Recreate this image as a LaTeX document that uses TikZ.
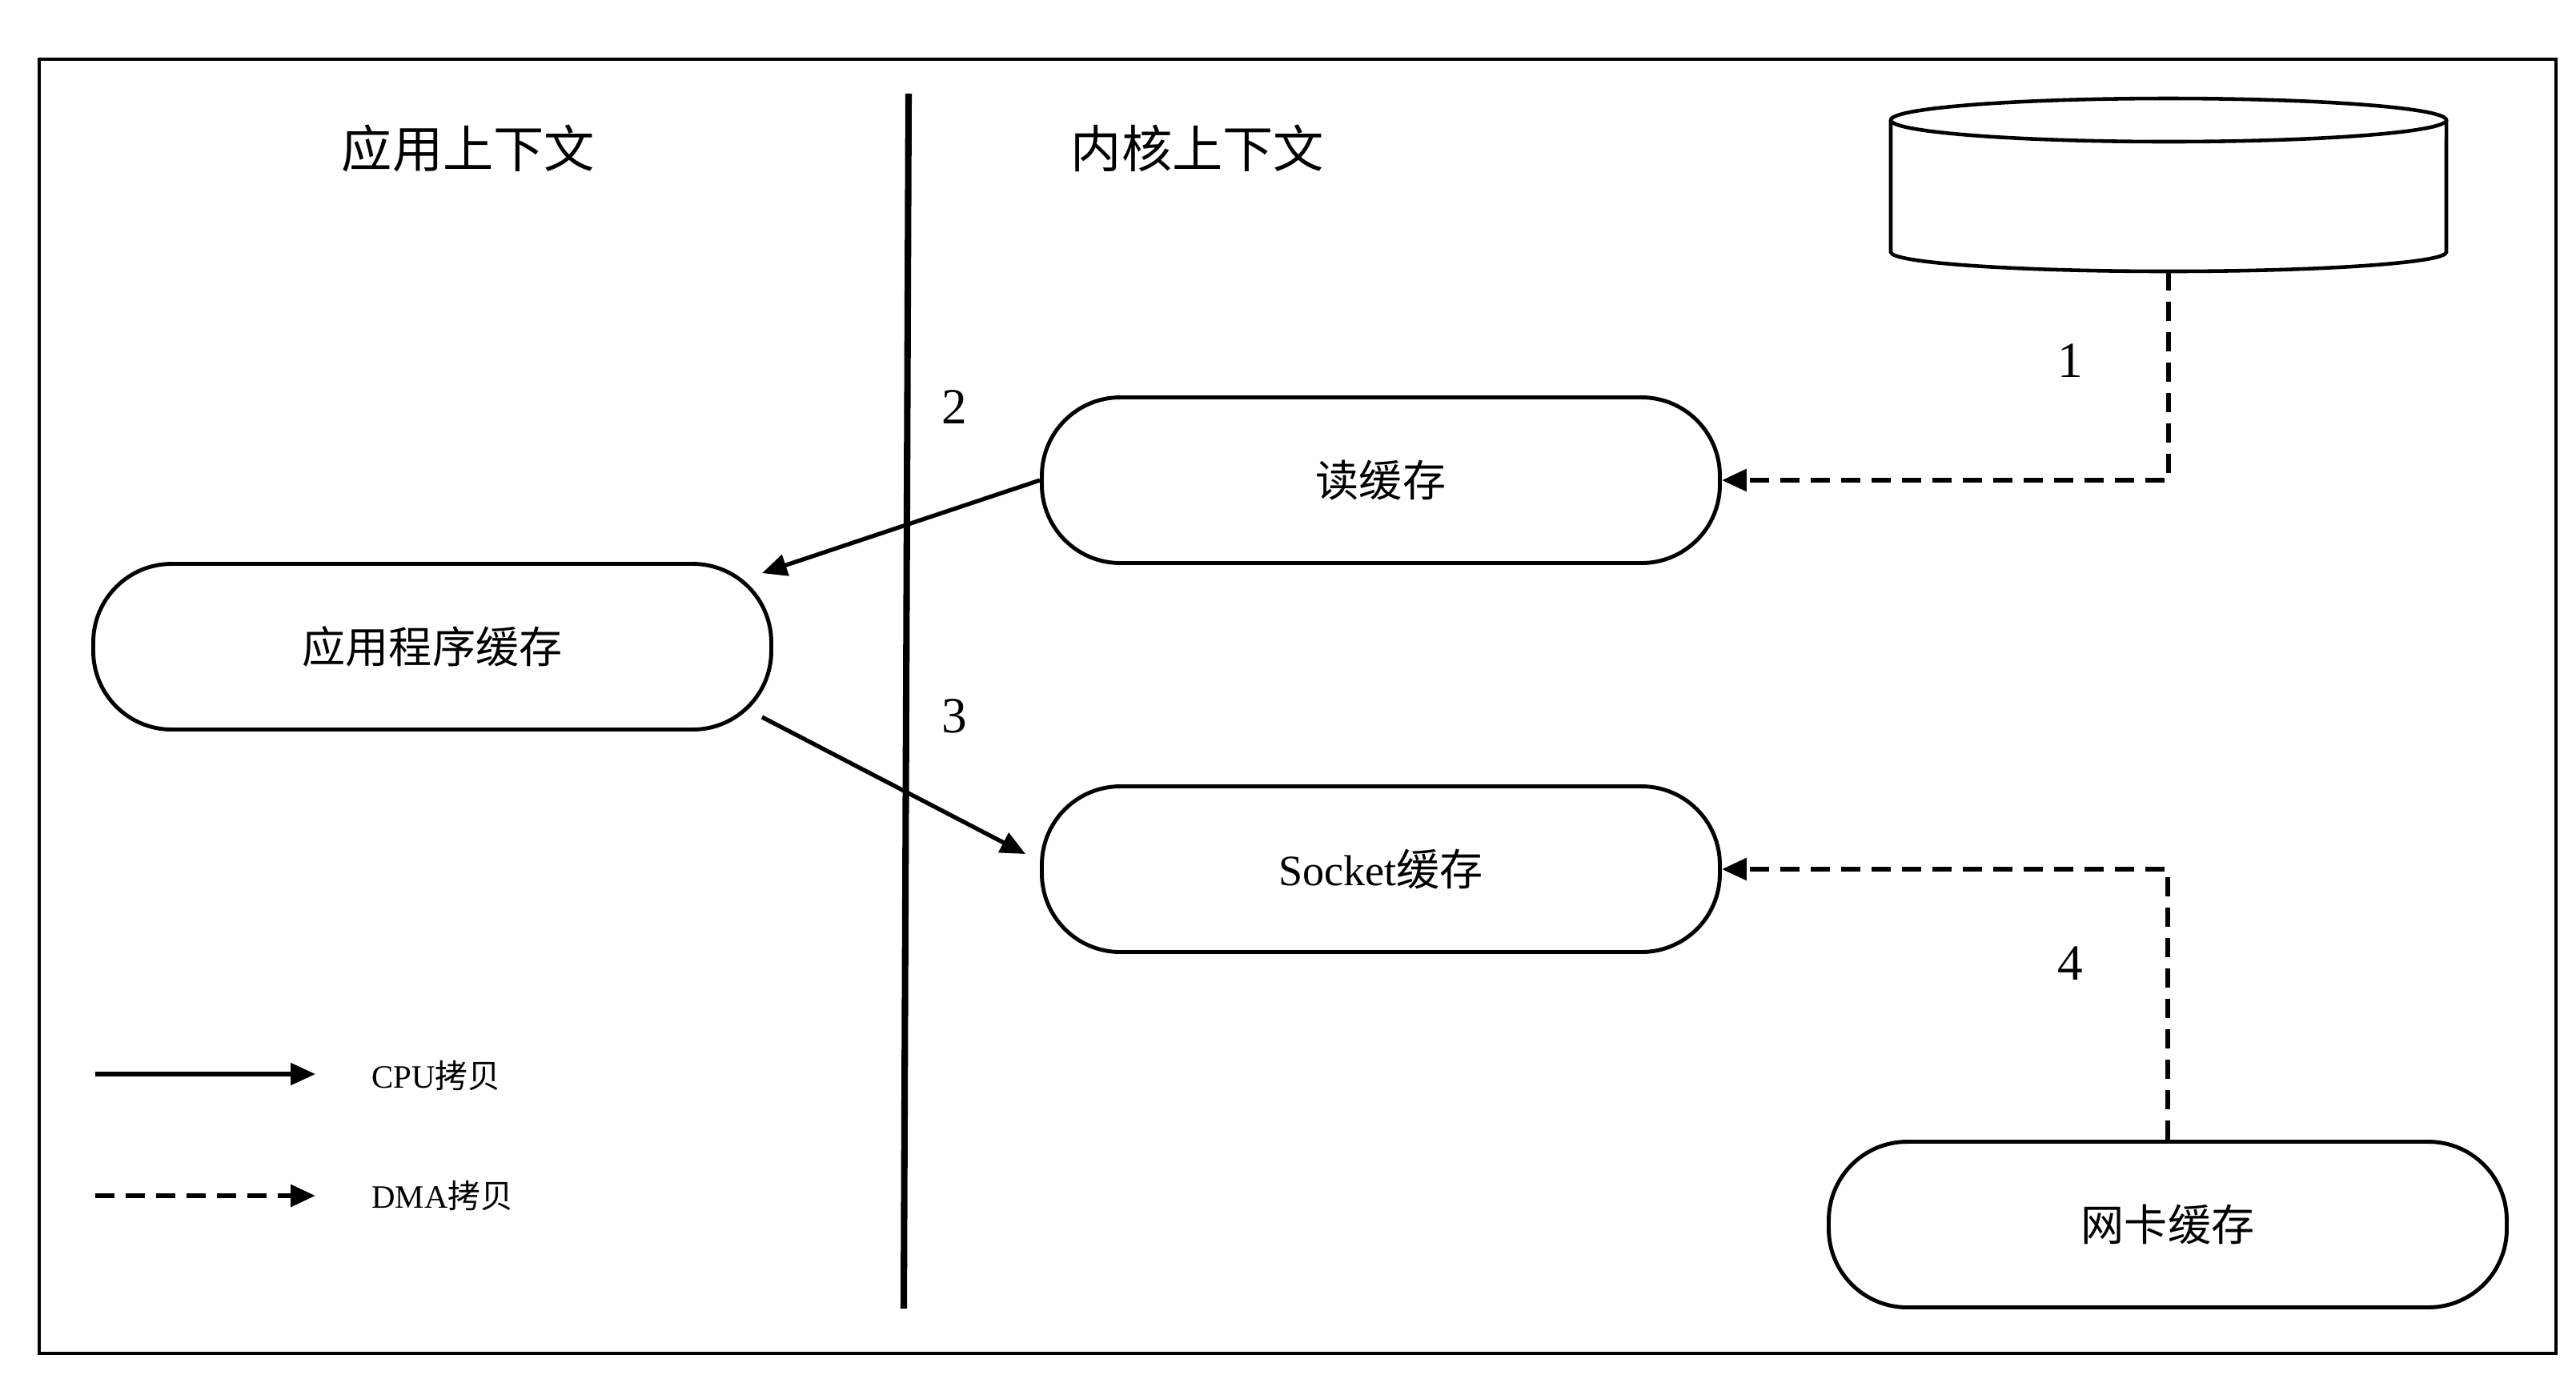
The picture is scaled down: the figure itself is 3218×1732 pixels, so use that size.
\documentclass[tikz,border=0pt]{standalone}
\usepackage{fontspec}
\setmainfont{Liberation Serif}
\newfontfamily\cjk{Noto Sans CJK SC}
\usetikzlibrary{arrows.meta}
\begin{document}
\begin{tikzpicture}[x=0.1mm,y=-0.1mm,
  bufbox/.style={draw, line width=1.4pt, rounded corners=9.8mm, minimum width=84.7mm, minimum height=20.7mm, inner sep=0pt, font=\fontsize{15.4}{18}\selectfont},
  hdr/.style={font=\cjk\fontsize{18}{21}\selectfont},
  num/.style={font=\fontsize{18}{21}\selectfont},
  legtext/.style={anchor=west, font=\fontsize{11.6}{14}\selectfont},
  cpu/.style={line width=1.5pt, -{Triangle[length=3.1mm,width=2.7mm]}},
  dma/.style={line width=1.7pt, dash pattern=on 2.4mm off 1.4mm, -{Triangle[length=3.1mm,width=2.7mm]}}
]
\useasboundingbox (0,0) rectangle (3218,1732);
\fill[white] (0,0) rectangle (3218,1732);
% frame
\draw[line width=1.1pt] (49,74) rectangle (3193,1691);
% divider
\coordinate (divtop) at (1135,117);
\coordinate (divbot) at (1129,1635);
\draw[line width=2.3pt] (divtop) -- (divbot);
% headers
\node[hdr] (hApp) at (585,185) {应用上下文};
\node[hdr] (hKer) at (1496,185) {内核上下文};
% disk (cylinder)
\draw[line width=1.3pt] (2709,150) ellipse [x radius=34.7mm, y radius=2.7mm];
\draw[line width=1.3pt] (2362,150) -- (2362,315)
  arc[start angle=180, end angle=360, x radius=34.7mm, y radius=2.4mm] -- (3056,150);
\coordinate (disk) at (2709,339);
% buffers
\node[bufbox] (read) at (1725,600) {\cjk 读缓存};
\node[bufbox] (app) at (540,808) {\cjk 应用程序缓存};
\node[bufbox] (sock) at (1725,1086) {Socket{\cjk 缓存}};
\node[bufbox] (nic) at (2708,1530) {\cjk 网卡缓存};
% connectors
\draw[dma] (disk) |- (read.east);
\draw[cpu] (read.west) -- ([shift={(-14,14)}]app.north east);
\draw[cpu] ([shift={(-14,-18)}]app.south east) -- ([shift={(-18,-19)}]sock.west);
\draw[dma] (nic.north) |- (sock.east);
% step numbers
\node[num] (n1) at (2586,451) {1};
\node[num] (n2) at (1192,509) {2};
\node[num] (n3) at (1192,895) {3};
\node[num] (n4) at (2586,1204) {4};
% legend
\coordinate (l1a) at (119,1342);
\coordinate (l1b) at (394,1342);
\coordinate (l2a) at (119,1494);
\coordinate (l2b) at (394,1494);
\draw[cpu] (l1a) -- (l1b);
\draw[dma] (l2a) -- (l2b);
\node[legtext] (lcpu) at (452,1344) {CPU{\cjk 拷贝}};
\node[legtext] (ldma) at (452,1494) {DMA{\cjk 拷贝}};
\end{tikzpicture}
\end{document}
